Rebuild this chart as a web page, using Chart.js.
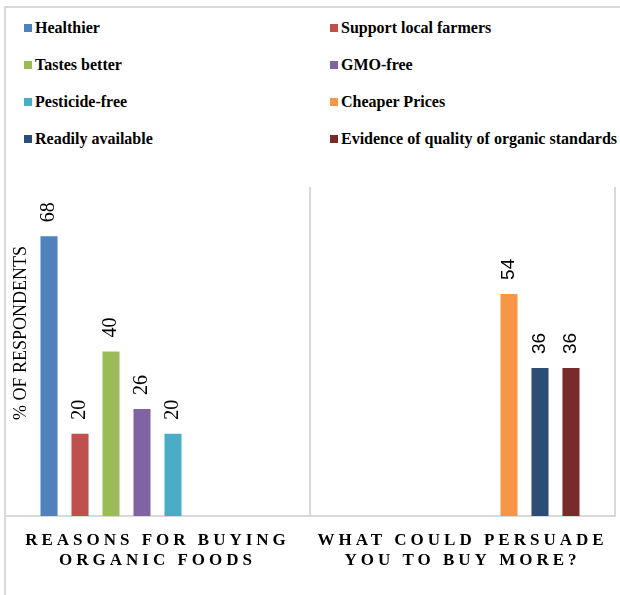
<!DOCTYPE html>
<html>
<head>
<meta charset="utf-8">
<script src="https://cdn.jsdelivr.net/npm/chart.js@4"></script>
<style>
  body { margin: 0; background: #fff; }
  #wrap { position: relative; width: 620px; height: 595px; }
  #frame { position: absolute; left: 4px; top: 6px; right: 0; bottom: 0;
           border-top: 2px solid #d9d9d9; border-left: 2px solid #d9d9d9; }
  #legend { position: absolute; left: 24px; top: 9px; display: grid;
            grid-template-columns: 306px auto; grid-auto-rows: 37px; align-items: center;
            font: bold 16px "Liberation Serif", "Times New Roman", serif; color: #000; }
  #legend .item { display: flex; align-items: center; white-space: nowrap; }
  #legend .box { width: 8px; height: 8px; margin-right: 3px; }
  #chartBox { position: absolute; left: 0; top: 0; width: 620px; height: 595px; }
</style>
</head>
<body>
<div id="wrap">
  <div id="frame"></div>
  <div id="legend"></div>
  <div id="chartBox"><canvas id="chart"></canvas></div>
</div>
<script>
const categories = [["REASONS FOR BUYING", "ORGANIC FOODS"], ["WHAT COULD PERSUADE", "YOU TO BUY MORE?"]];
const seriesNames = ["Healthier", "Support local farmers", "Tastes better", "GMO-free",
                     "Pesticide-free", "Cheaper Prices", "Readily available",
                     "Evidence of quality of organic standards"];
const healthier = [68, null];
const supportFarmers = [20, null];
const tastesBetter = [40, null];
const gmoFree = [26, null];
const pesticideFree = [20, null];
const cheaperPrices = [null, 54];
const readilyAvailable = [null, 36];
const evidenceQuality = [null, 36];
const seriesValues = [healthier, supportFarmers, tastesBetter, gmoFree, pesticideFree,
                      cheaperPrices, readilyAvailable, evidenceQuality];
const seriesColors = ["#4f81bd", "#c0504d", "#9bbb59", "#8064a2", "#4bacc6", "#f79646", "#2c4d75", "#772c2a"];
const yTitle = "% OF RESPONDENTS";

// html legend, two columns
let legendEl = document.getElementById("legend");
seriesNames.forEach((name, i) => {
    let item = document.createElement("div");
    item.className = "item";
    item.innerHTML = `<span class="box" style="background:${seriesColors[i]}"></span>${name}`;
    legendEl.appendChild(item);
});

// spaced-out category labels
const spacingPlugin = {
    id: "spacing",
    beforeDraw(chart) { chart.ctx.letterSpacing = "4px"; },
    beforeDatasetsDraw(chart) { chart.ctx.letterSpacing = "0px"; }
};

const valueLabels = {
    id: "valueLabels",
    afterDatasetsDraw(chart) {
        let ctx = chart.ctx;
        chart.data.datasets.forEach((ds, di) => {
            let meta = chart.getDatasetMeta(di);
            meta.data.forEach((bar, i) => {
                let v = ds.data[i];
                if (v === null) return;
                ctx.save();
                ctx.letterSpacing = "0px";
                ctx.fillStyle = "#000";
                ctx.font = i === 0 ? '20px "Liberation Serif"' : '19px "Liberation Sans"';
                ctx.translate(bar.x, bar.y - 14);
                ctx.rotate(-Math.PI / 2);
                ctx.textAlign = "left";
                ctx.textBaseline = "middle";
                ctx.fillText(String(v), 0, 0);
                ctx.restore();
            });
        });
    }
};

const yTitlePlugin = {
    id: "yTitle",
    afterDraw(chart) {
        let ctx = chart.ctx;
        ctx.save();
        ctx.letterSpacing = "0px";
        ctx.fillStyle = "#000";
        ctx.font = '18px "Liberation Serif"';
        ctx.translate(21, 333);
        ctx.rotate(-Math.PI / 2);
        ctx.textAlign = "center";
        ctx.textBaseline = "middle";
        ctx.fillText(yTitle, 0, 0);
        ctx.restore();
    }
};

new Chart(document.getElementById("chart"), {
    type: "bar",
    data: {
        labels: categories,
        datasets: seriesNames.map((name, i) => ({
            label: name,
            data: seriesValues[i],
            backgroundColor: seriesColors[i],
            barPercentage: 0.55,
            categoryPercentage: 0.813
        }))
    },
    options: {
        responsive: true,
        maintainAspectRatio: false,
        animation: false,
        layout: { padding: { left: 5, right: 5, top: 187, bottom: 0 } },
        plugins: { legend: { display: false }, tooltip: { enabled: false } },
        scales: {
            x: {
                afterFit(scale) { scale.height = 79; },
                grid: { color: "#d9d9d9", lineWidth: 2, drawTicks: false },
                border: { color: "#d9d9d9", width: 2 },
                ticks: {
                    color: "#000",
                    padding: 15,
                    maxRotation: 0,
                    autoSkip: false,
                    font: { family: "Liberation Serif", size: 17, weight: "bold", lineHeight: 1.18 }
                }
            },
            y: { display: false, min: 0, max: 80 }
        }
    },
    plugins: [spacingPlugin, valueLabels, yTitlePlugin]
});
</script>
</body>
</html>
